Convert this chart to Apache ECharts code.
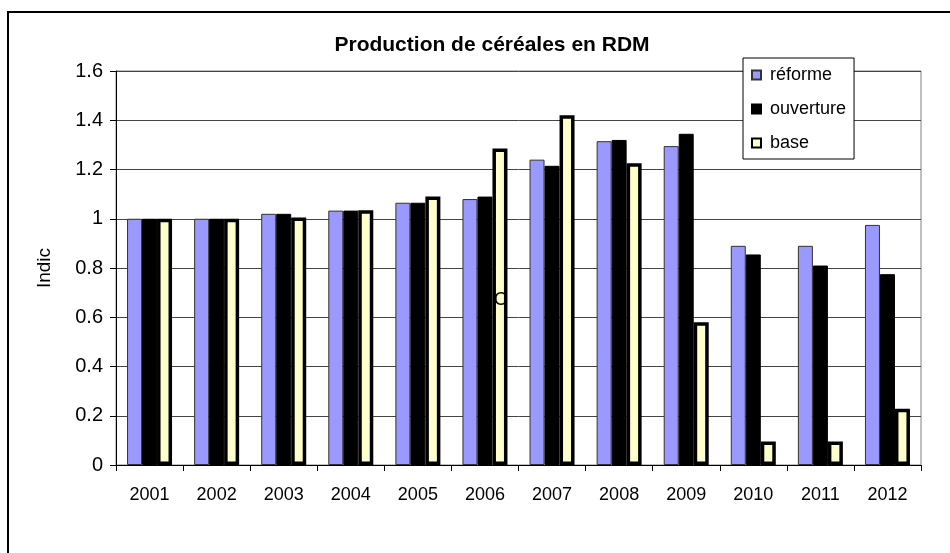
<!DOCTYPE html>
<html>
<head>
<meta charset="utf-8">
<script src="https://cdn.jsdelivr.net/npm/echarts@6/dist/echarts.min.js"></script>
<style>
  html, body { margin: 0; padding: 0; background: #ffffff; }
  #chart { width: 950px; height: 553px; }
</style>
</head>
<body>
<div id="chart"></div>
<script>
// Production de céréales en RDM — indices 2001-2012
const years = ['2001', '2002', '2003', '2004', '2005', '2006', '2007', '2008', '2009', '2010', '2011', '2012'];
const reforme   = [1.00, 1.00, 1.02, 1.033, 1.065, 1.08, 1.24, 1.315, 1.295, 0.89, 0.89, 0.975];
const ouverture = [1.00, 1.00, 1.02, 1.033, 1.065, 1.09, 1.215, 1.32, 1.345, 0.855, 0.81, 0.775];
const base      = [1.00, 1.00, 1.005, 1.035, 1.09, 1.285, 1.42, 1.225, 0.58, 0.095, 0.095, 0.228];
const yTicks = { min: 0, max: 1.6, interval: 0.2 };

const FONT = '"Liberation Sans", Arial, sans-serif';
const chart = echarts.init(document.getElementById('chart'), null, { renderer: 'canvas' });

chart.setOption({
  animation: false,
  backgroundColor: '#ffffff',
  title: {
    text: 'Production de céréales en RDM',
    left: 487,
    top: 30,
    textAlign: 'center',
    textStyle: { fontFamily: FONT, fontSize: 21, fontWeight: 'bold', color: '#000' }
  },
  legend: {
    orient: 'vertical',
    left: 743,
    top: 58,
    width: 114,
    padding: [8, 8, 7, 8],
    itemGap: 16,
    itemWidth: 9,
    itemHeight: 9,
    backgroundColor: '#ffffff',
    borderColor: '#000000',
    borderWidth: 1,
    borderRadius: 0,
    textStyle: { fontFamily: FONT, fontSize: 18, color: '#000', padding: [0, 0, 0, 4] },
    data: [
      { name: 'réforme', icon: 'rect' },
      { name: 'ouverture', icon: 'rect' },
      { name: 'base', icon: 'rect' }
    ]
  },
  grid: { left: 116, right: 29, top: 71, bottom: 88, containLabel: false,
          show: true, borderColor: '#808080', borderWidth: 1 },
  xAxis: {
    type: 'category',
    data: years,
    boundaryGap: true,
    axisLine: { lineStyle: { color: '#000', width: 1 } },
    axisTick: { show: true, alignWithLabel: false, length: 6, lineStyle: { color: '#000' } },
    axisLabel: { fontFamily: FONT, fontSize: 18, color: '#000', margin: 21 },
    splitLine: { show: false }
  },
  yAxis: {
    type: 'value',
    min: yTicks.min,
    max: yTicks.max,
    interval: yTicks.interval,
    name: 'Indic',
    nameLocation: 'middle',
    nameRotate: 90,
    nameGap: 62,
    nameTextStyle: { fontFamily: FONT, fontSize: 19, color: '#000' },
    axisLine: { show: true, lineStyle: { color: '#000', width: 1 } },
    axisTick: { show: true, length: 6, lineStyle: { color: '#000' } },
    axisLabel: { fontFamily: FONT, fontSize: 20, color: '#000', margin: 13,
                 formatter: v => String(Math.round(v * 10) / 10) },
    splitLine: { show: true, lineStyle: { color: '#444444', width: 1 } }
  },
  series: [
    {
      name: 'réforme', type: 'bar', data: reforme,
      barWidth: 15, barGap: '0%',
      itemStyle: { color: '#9999FF', borderColor: '#333333', borderWidth: 1 }
    },
    {
      name: 'ouverture', type: 'bar', data: ouverture,
      barWidth: 15, barGap: '0%',
      itemStyle: { color: '#000000', borderColor: '#000000', borderWidth: 1 }
    },
    {
      name: 'base', type: 'bar', data: base,
      barWidth: 15, barGap: '0%',
      itemStyle: { color: '#FFFFCC', borderColor: '#000000', borderWidth: 3.5 },
      markPoint: {
        symbol: 'circle', symbolSize: 0,
        label: { show: true, formatter: 'O', fontFamily: FONT, fontSize: 18, color: '#000',
                 position: 'inside', offset: [1, 0] },
        data: [{ coord: ['2006', 0.67] }]
      }
    }
  ],
  graphic: [
    {
      type: 'polyline',
      shape: { points: [[8, 553], [8, 12], [950, 12]] },
      style: { stroke: '#000', lineWidth: 2, fill: null },
      silent: true
    }
  ]
});
</script>
</body>
</html>
